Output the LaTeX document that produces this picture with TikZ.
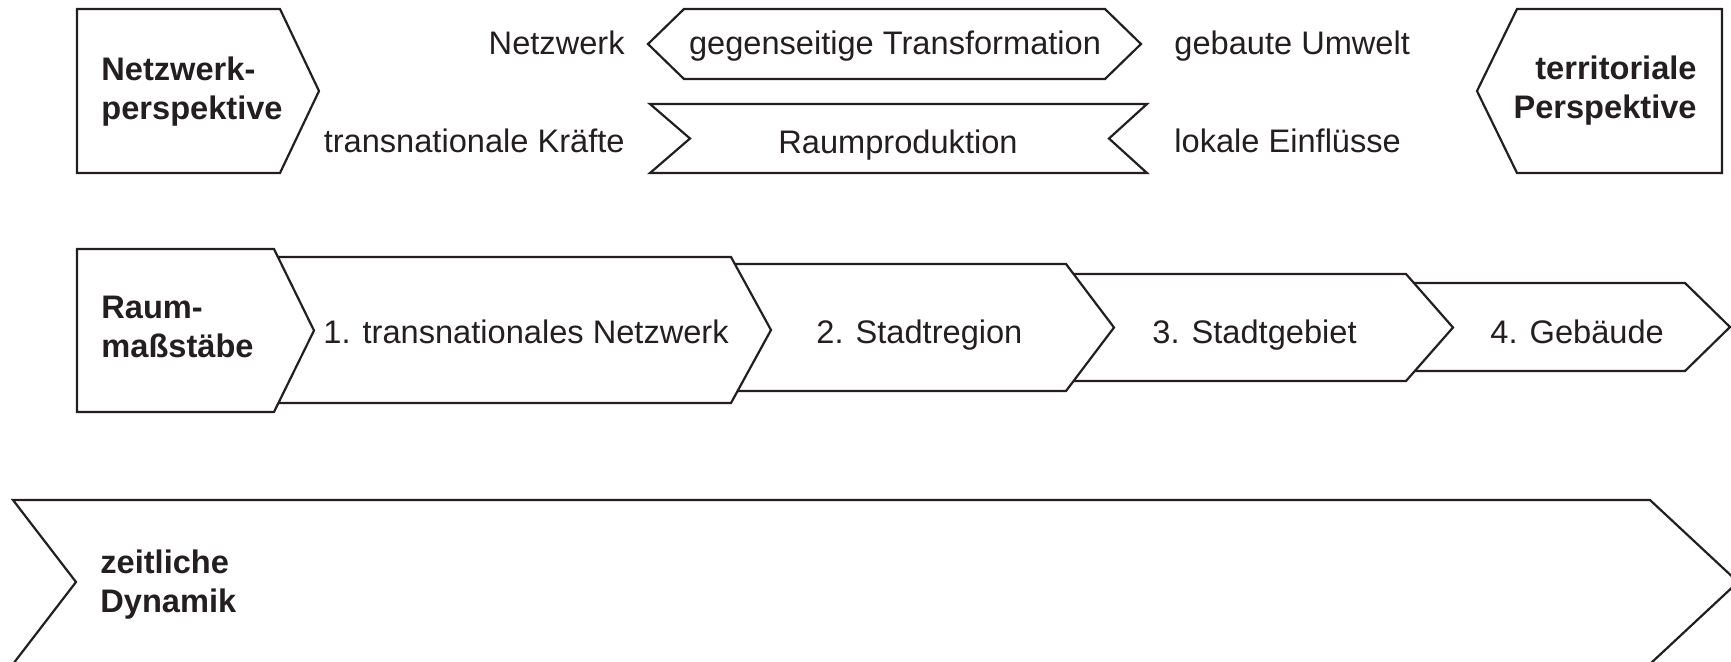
\documentclass[tikz,border=0pt]{standalone}
\usepackage{fontspec}
\setmainfont{Liberation Sans}
\definecolor{ink}{HTML}{231F20}
\tikzset{
  shp/.style={draw=ink, fill=white, line width=1.1pt, line join=miter},
  txt/.style={inner sep=0pt, text=ink, font=\fontsize{16.3}{19.5}\selectfont},
  btxt/.style={inner sep=0pt, text=ink, font=\fontsize{16.3}{19.5}\selectfont\bfseries},
}
\begin{document}
\begin{tikzpicture}[x=0.5pt,y=-0.5pt]
\useasboundingbox (0,0) rectangle (1731,661);
\clip (0,0) rectangle (1731,661);

% ---------- row 1 ----------
\draw[shp] (77,9) -- (280,9) -- (319,91) -- (280,173) -- (77,173) -- cycle;
\node[btxt, align=left, anchor=north west] (netzp) at (101,56) {Netzwerk-\\perspektive};

\draw[shp] (1477,91) -- (1517,9) -- (1722,9) -- (1722,173) -- (1517,173) -- cycle;
\node[btxt, align=right, anchor=north east] (terrp) at (1697,55) {territoriale\\Perspektive};

\draw[shp] (648,44) -- (684,9) -- (1105,9) -- (1141,44) -- (1105,79) -- (684,79) -- cycle;
\node[txt, anchor=base] (trans) at (895,54) {gegenseitige Transformation};

\draw[shp] (650,104) -- (1147,104) -- (1109,138.5) -- (1147,173) -- (650,173) -- (690,138.5) -- cycle;
\node[txt, anchor=base] (raump) at (898,153) {Raumproduktion};

\node[txt, anchor=base east] (netz) at (625,54) {Netzwerk};
\node[txt, anchor=base east] (tkr) at (625,152) {transnationale Kräfte};
\node[txt, anchor=base west] (gum) at (1174,54) {gebaute Umwelt};
\node[txt, anchor=base west] (lok) at (1174,152) {lokale Einflüsse};

% ---------- row 2 ----------
\draw[shp] (1380,283) -- (1685,283) -- (1730,327) -- (1685,371) -- (1380,371) -- cycle;
\draw[shp] (1040,274) -- (1406,274) -- (1453,327.5) -- (1406,381) -- (1040,381) -- cycle;
\draw[shp] (700,264) -- (1066,264) -- (1114,327.5) -- (1066,391) -- (700,391) -- cycle;
\draw[shp] (250,257) -- (731,257) -- (771,330) -- (731,403) -- (250,403) -- cycle;
\draw[shp] (77,249) -- (274,249) -- (314,330.5) -- (274,412) -- (77,412) -- cycle;

\node[btxt, align=left, anchor=north west] (raumm) at (101,296) {Raum-\\maßstäbe};
\node[txt, anchor=base west] (s1) at (323,343) {1. transnationales Netzwerk};
\node[txt, anchor=base west] (s2) at (816,343) {2. Stadtregion};
\node[txt, anchor=base west] (s3) at (1152,343) {3. Stadtgebiet};
\node[txt, anchor=base west] (s4) at (1490,343) {4. Gebäude};

% ---------- row 3 ----------
\draw[shp] (13,500) -- (1650,500) -- (1738,582) -- (1650,664) -- (13,664) -- (76,582) -- cycle;
\node[btxt, align=left, anchor=north west] (zeit) at (100,549) {zeitliche\\Dynamik};
\end{tikzpicture}
\end{document}
